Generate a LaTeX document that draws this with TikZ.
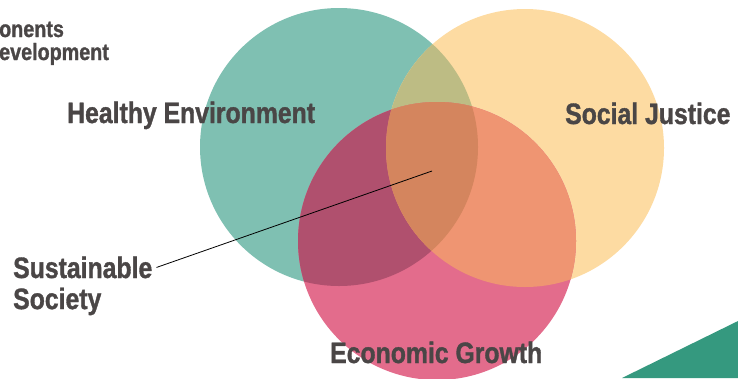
\documentclass[tikz,border=0pt]{standalone}
\usepackage{fontspec}
\newfontfamily\vennfont[FakeStretch=0.84, BoldFeatures={FakeBold=1.2}]{Liberation Sans}
\usetikzlibrary{positioning, calc}

\definecolor{envgreen}{HTML}{7FC0B2}
\definecolor{socyellow}{HTML}{FDDBA2}
\definecolor{ecopink}{HTML}{E36C8C}
\definecolor{envsoc}{HTML}{BDBC84}
\definecolor{enveco}{HTML}{B0506E}
\definecolor{soceco}{HTML}{EF9572}
\definecolor{allthree}{HTML}{D4855E}
\definecolor{cornerteal}{HTML}{35997F}
\definecolor{labelgray}{HTML}{4A4646}

\tikzset{
  biglabel/.style={anchor=base west, inner sep=0pt, text=labelgray,
    font=\vennfont\bfseries\fontsize{29.5}{31}\selectfont},
  titlelabel/.style={anchor=base west, inner sep=0pt, text=labelgray,
    font=\vennfont\bfseries\fontsize{23.5}{23}\selectfont}
}

\begin{document}
\begin{tikzpicture}[x=1pt, y=-1pt]
\useasboundingbox (0,0) rectangle (738,378);

\coordinate (env_c) at (339,147);
\coordinate (soc_c) at (525,148);
\coordinate (eco_c) at (437,241);

\fill[envgreen]  (env_c) circle (139);
\fill[socyellow] (soc_c) circle (139);
\fill[ecopink]   (eco_c) circle (139);

% overlaps
\begin{scope}
  \clip (env_c) circle (139);
  \fill[envsoc] (soc_c) circle (139);
  \fill[enveco] (eco_c) circle (139);
\end{scope}
\begin{scope}
  \clip (soc_c) circle (139);
  \fill[soceco] (eco_c) circle (139);
\end{scope}
\begin{scope}
  \clip (env_c) circle (139);
  \clip (soc_c) circle (139);
  \fill[allthree] (eco_c) circle (139);
\end{scope}

\fill[cornerteal] (622,378) -- (738,321) -- (738,378) -- cycle;

\node[titlelabel] (title1) at (-1,37) {onents};
\node[titlelabel] (title2) at (-1,60) {evelopment};

\node[biglabel] (env) at (67,123) {Healthy Environment};
\node[biglabel] (soc) at (565,124) {Social Justice};
\node[biglabel] (eco) at (330,363) {Economic Growth};

\node[biglabel] (sust) at (13,278) {Sustainable};
\node[biglabel, below right=9pt and 0pt of sust.south west, anchor=north west] (society) {Society};

\coordinate (core) at (432,171);
\draw[black, line width=0.8pt] (sust.east) ++(4,0) -- (core);
\end{tikzpicture}
\end{document}
